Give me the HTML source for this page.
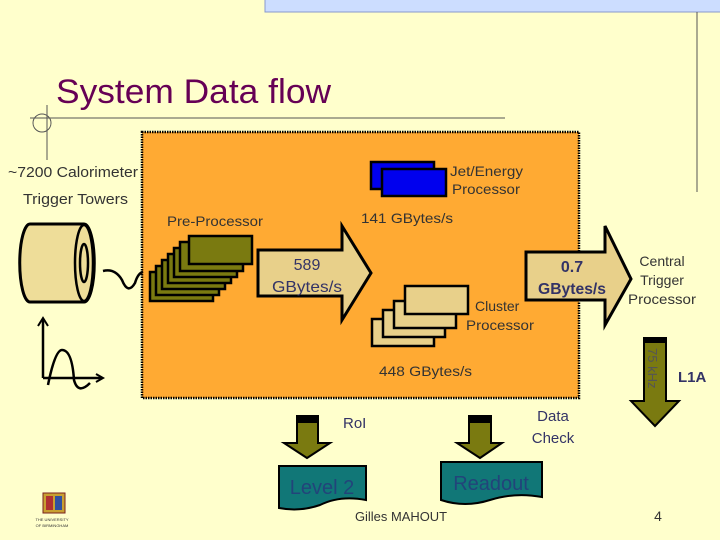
<!DOCTYPE html>
<html><head><meta charset="utf-8"><style>
html,body{margin:0;padding:0;background:#FFFFCC;}
svg{display:block;font-family:"Liberation Sans","DejaVu Sans",sans-serif;}
</style></head><body>
<svg width="720" height="540" viewBox="0 0 720 540" xmlns="http://www.w3.org/2000/svg">
<rect width="720" height="540" fill="#FFFFCC"/>
<rect x="265" y="-1" width="456" height="13" fill="#CCDDFF" stroke="#8899CC"/>
<line x1="697" y1="12" x2="697" y2="192" stroke="#555" stroke-width="1"/>
<line x1="30" y1="118" x2="505" y2="118" stroke="#555"/>
<line x1="47" y1="105" x2="47" y2="160" stroke="#555"/>
<circle cx="42" cy="123" r="9" fill="none" stroke="#555"/>
<text x="56" y="103" font-size="34" fill="#660055" textLength="275" lengthAdjust="spacingAndGlyphs">System Data flow</text>

<rect x="142" y="132" width="437" height="266" fill="#FFAA33" stroke="#000" stroke-width="2.5" stroke-dasharray="1.5 1"/>

<text x="8" y="177" font-size="15" fill="#333" textLength="130" lengthAdjust="spacingAndGlyphs">~7200 Calorimeter</text>
<text x="23" y="204" font-size="15" fill="#333" textLength="105" lengthAdjust="spacingAndGlyphs">Trigger Towers</text>

<!-- cylinder -->
<path d="M30 224 L84 224 A10 38 0 0 1 84 302 L30 302 A10 38 0 0 1 30 224 Z" fill="#EEDD99" stroke="#000" stroke-width="3"/>
<ellipse cx="84" cy="263" rx="9" ry="38" fill="#EEDD99" stroke="#000" stroke-width="2.5"/>
<ellipse cx="84" cy="263" rx="4" ry="19" fill="none" stroke="#000" stroke-width="2.5"/>
<path d="M103 271 Q115 268 122 280 Q128 295 135 283 Q138 273 143 272" fill="none" stroke="#000" stroke-width="2.5"/>
<!-- pulse -->
<line x1="43" y1="320" x2="43" y2="378" stroke="#000" stroke-width="2.5"/>
<path d="M38 326 L43 318 L48 326" fill="none" stroke="#000" stroke-width="2"/>
<line x1="43" y1="378" x2="102" y2="378" stroke="#000" stroke-width="2.5"/>
<path d="M96 374 L103 378 L96 382" fill="none" stroke="#000" stroke-width="2"/>
<path d="M48 385 Q55 350 62 350 Q72 350 74 380 Q78 395 90 383" fill="none" stroke="#000" stroke-width="2.5"/>

<text x="167" y="226" font-size="14" fill="#333" textLength="96" lengthAdjust="spacingAndGlyphs">Pre-Processor</text>
<g fill="#7A7A10" stroke="#000" stroke-width="2.5">
<rect x="150" y="272" width="63" height="29"/>
<rect x="156" y="266" width="63" height="29"/>
<rect x="162" y="260" width="63" height="29"/>
<rect x="168" y="254" width="63" height="29"/>
<rect x="174" y="248" width="63" height="29"/>
<rect x="180" y="242" width="63" height="29"/>
<rect x="189" y="236" width="63" height="28"/>
</g>

<!-- 589 arrow -->
<path d="M258 250 L342 250 L342 226 L371 273 L342 320 L342 296 L258 296 Z" fill="#E8D08A" stroke="#000" stroke-width="3"/>
<text x="307" y="270" font-size="16" fill="#333366" text-anchor="middle">589</text>
<text x="307" y="292" font-size="16" fill="#333366" text-anchor="middle" textLength="70" lengthAdjust="spacingAndGlyphs">GBytes/s</text>

<!-- Jet/Energy -->
<rect x="371" y="162" width="63" height="27" fill="#0000EE" stroke="#000" stroke-width="2.5"/>
<rect x="382" y="169" width="64" height="27" fill="#0000EE" stroke="#000" stroke-width="2.5"/>
<text x="450" y="176" font-size="14" fill="#333" textLength="73" lengthAdjust="spacingAndGlyphs">Jet/Energy</text>
<text x="452" y="194" font-size="14" fill="#333" textLength="68" lengthAdjust="spacingAndGlyphs">Processor</text>
<text x="361" y="223" font-size="14" fill="#333" textLength="92" lengthAdjust="spacingAndGlyphs">141 GBytes/s</text>

<!-- Cluster -->
<g fill="#E8D08A" stroke="#000" stroke-width="2.5">
<rect x="372" y="319" width="62" height="27"/>
<rect x="383" y="310" width="62" height="27"/>
<rect x="394" y="301" width="62" height="27"/>
<rect x="405" y="286" width="63" height="28"/>
</g>
<text x="475" y="311" font-size="14" fill="#333">Cluster</text>
<text x="466" y="330" font-size="14" fill="#333" textLength="68" lengthAdjust="spacingAndGlyphs">Processor</text>
<text x="379" y="376" font-size="14" fill="#333" textLength="93" lengthAdjust="spacingAndGlyphs">448 GBytes/s</text>

<!-- 0.7 arrow -->
<path d="M526 252 L605 252 L605 226 L631 279 L605 325 L605 300 L526 300 Z" fill="#E8D08A" stroke="#000" stroke-width="3"/>
<text x="572" y="272" font-size="16" fill="#333366" text-anchor="middle" font-weight="bold">0.7</text>
<text x="572" y="294" font-size="16" fill="#333366" text-anchor="middle" font-weight="bold" textLength="68" lengthAdjust="spacingAndGlyphs">GBytes/s</text>
<text x="662" y="266" font-size="14" fill="#333" text-anchor="middle">Central</text>
<text x="662" y="285" font-size="14" fill="#333" text-anchor="middle">Trigger</text>
<text x="662" y="304" font-size="14" fill="#333" text-anchor="middle" textLength="68" lengthAdjust="spacingAndGlyphs">Processor</text>

<!-- L1A arrow -->
<path d="M644 338 L666 338 L666 401 L679 401 L655 426 L631 401 L644 401 Z" fill="#7A7A10" stroke="#000" stroke-width="2"/>
<rect x="644" y="338" width="22" height="5" fill="#000"/>
<text x="0" y="0" font-size="13" fill="#555" transform="translate(648,348) rotate(90)">75 kHz</text>
<text x="678" y="382" font-size="15" fill="#333366" font-weight="bold">L1A</text>

<!-- RoI arrow -->
<path d="M297 416 L318 416 L318 443 L330 443 L307 458 L284 443 L297 443 Z" fill="#7A7A10" stroke="#000" stroke-width="2"/>
<rect x="297" y="416" width="21" height="7" fill="#000"/>
<text x="343" y="428" font-size="15" fill="#333366">RoI</text>
<path d="M469 416 L491 416 L491 443 L502 443 L480 458 L457 443 L469 443 Z" fill="#7A7A10" stroke="#000" stroke-width="2"/>
<rect x="469" y="416" width="22" height="7" fill="#000"/>
<text x="553" y="421" font-size="15" fill="#333366" text-anchor="middle">Data</text>
<text x="553" y="443" font-size="15" fill="#333366" text-anchor="middle">Check</text>

<!-- Level 2 / Readout -->
<path d="M279 466 L366 466 L366 500 Q340 495 320 505 Q300 512 279 508 Z" fill="#117777" stroke="#000" stroke-width="2"/>
<text x="322" y="494" font-size="20" fill="#22447A" text-anchor="middle">Level 2</text>
<path d="M441 462 L542 462 L542 497 Q515 492 490 500 Q465 508 441 500 Z" fill="#117777" stroke="#000" stroke-width="2"/>
<text x="491" y="490" font-size="20" fill="#22447A" text-anchor="middle">Readout</text>

<text x="401" y="521" font-size="13" fill="#333" text-anchor="middle" textLength="92" lengthAdjust="spacingAndGlyphs">Gilles MAHOUT</text>
<text x="658" y="521" font-size="14" fill="#333" text-anchor="middle">4</text>

<!-- logo -->
<rect x="43" y="493" width="22" height="20" fill="#C8A030" stroke="#7A2020"/>
<rect x="46" y="496" width="7" height="14" fill="#B03030"/>
<rect x="55" y="496" width="7" height="14" fill="#3050A0"/>
<text x="52" y="521" font-size="4" fill="#333" text-anchor="middle">THE UNIVERSITY</text>
<text x="52" y="527" font-size="4" fill="#333" text-anchor="middle">OF BIRMINGHAM</text>
</svg>
</body></html>
